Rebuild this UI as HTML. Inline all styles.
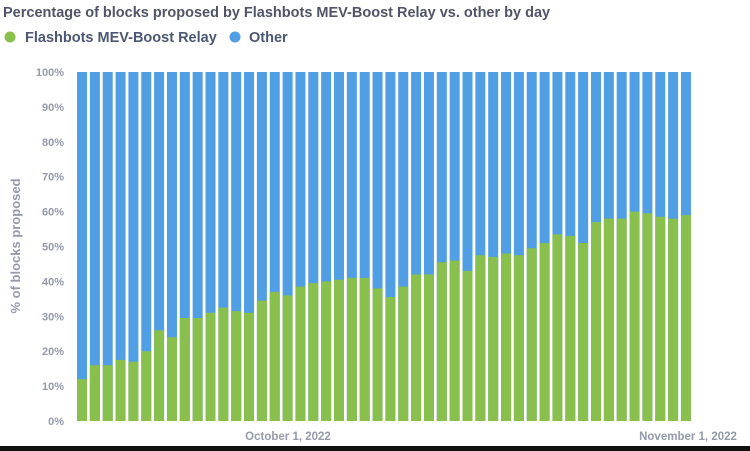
<!DOCTYPE html>
<html><head><meta charset="utf-8"><style>
html,body{margin:0;padding:0;background:#fff;width:750px;height:451px;overflow:hidden;font-family:"Liberation Sans",sans-serif}
</style></head><body>
<svg width="750" height="451" xmlns="http://www.w3.org/2000/svg" style="display:block">
<rect x="0" y="0" width="750" height="451" fill="#fff"/>
<text x="3" y="17" font-size="14.5" font-weight="bold" fill="#4f5566">Percentage of blocks proposed by Flashbots MEV-Boost Relay vs. other by day</text>
<circle cx="10" cy="37" r="5.5" fill="#88bf4d"/>
<text x="25" y="42" font-size="14.5" font-weight="bold" fill="#4c5773">Flashbots MEV-Boost Relay</text>
<circle cx="235" cy="37" r="5.5" fill="#509ee3"/>
<text x="249" y="42" font-size="14.5" font-weight="bold" fill="#4c5773">Other</text>
<text transform="translate(20,246) rotate(-90)" text-anchor="middle" font-size="13" font-weight="bold" fill="#949aab">% of blocks proposed</text>
<g font-size="11" font-weight="bold" fill="#949aab" text-anchor="end">
<text x="64" y="425">0%</text><text x="64" y="390.1">10%</text><text x="64" y="355.2">20%</text><text x="64" y="320.3">30%</text><text x="64" y="285.4">40%</text><text x="64" y="250.5">50%</text><text x="64" y="215.6">60%</text><text x="64" y="180.7">70%</text><text x="64" y="145.8">80%</text><text x="64" y="110.9">90%</text><text x="64" y="76">100%</text>
</g>
<g fill="#509ee3">
<rect x="77" y="72" width="10" height="349"/><rect x="89.85" y="72" width="10" height="349"/><rect x="102.7" y="72" width="10" height="349"/><rect x="115.55" y="72" width="10" height="349"/><rect x="128.4" y="72" width="10" height="349"/><rect x="141.25" y="72" width="10" height="349"/><rect x="154.1" y="72" width="10" height="349"/><rect x="166.95" y="72" width="10" height="349"/><rect x="179.8" y="72" width="10" height="349"/><rect x="192.65" y="72" width="10" height="349"/><rect x="205.5" y="72" width="10" height="349"/><rect x="218.35" y="72" width="10" height="349"/><rect x="231.2" y="72" width="10" height="349"/><rect x="244.05" y="72" width="10" height="349"/><rect x="256.9" y="72" width="10" height="349"/><rect x="269.75" y="72" width="10" height="349"/><rect x="282.6" y="72" width="10" height="349"/><rect x="295.45" y="72" width="10" height="349"/><rect x="308.3" y="72" width="10" height="349"/><rect x="321.15" y="72" width="10" height="349"/><rect x="334" y="72" width="10" height="349"/><rect x="346.85" y="72" width="10" height="349"/><rect x="359.7" y="72" width="10" height="349"/><rect x="372.55" y="72" width="10" height="349"/><rect x="385.4" y="72" width="10" height="349"/><rect x="398.25" y="72" width="10" height="349"/><rect x="411.1" y="72" width="10" height="349"/><rect x="423.95" y="72" width="10" height="349"/><rect x="436.8" y="72" width="10" height="349"/><rect x="449.65" y="72" width="10" height="349"/><rect x="462.5" y="72" width="10" height="349"/><rect x="475.35" y="72" width="10" height="349"/><rect x="488.2" y="72" width="10" height="349"/><rect x="501.05" y="72" width="10" height="349"/><rect x="513.9" y="72" width="10" height="349"/><rect x="526.75" y="72" width="10" height="349"/><rect x="539.6" y="72" width="10" height="349"/><rect x="552.45" y="72" width="10" height="349"/><rect x="565.3" y="72" width="10" height="349"/><rect x="578.15" y="72" width="10" height="349"/><rect x="591" y="72" width="10" height="349"/><rect x="603.85" y="72" width="10" height="349"/><rect x="616.7" y="72" width="10" height="349"/><rect x="629.55" y="72" width="10" height="349"/><rect x="642.4" y="72" width="10" height="349"/><rect x="655.25" y="72" width="10" height="349"/><rect x="668.1" y="72" width="10" height="349"/><rect x="680.95" y="72" width="10" height="349"/>
</g>
<g fill="#88bf4d">
<rect x="77" y="379.1" width="10" height="41.9"/><rect x="89.85" y="365.2" width="10" height="55.8"/><rect x="102.7" y="365.2" width="10" height="55.8"/><rect x="115.55" y="359.9" width="10" height="61.1"/><rect x="128.4" y="361.7" width="10" height="59.3"/><rect x="141.25" y="351.2" width="10" height="69.8"/><rect x="154.1" y="330.3" width="10" height="90.7"/><rect x="166.95" y="337.2" width="10" height="83.8"/><rect x="179.8" y="318" width="10" height="103"/><rect x="192.65" y="318" width="10" height="103"/><rect x="205.5" y="312.8" width="10" height="108.2"/><rect x="218.35" y="307.6" width="10" height="113.4"/><rect x="231.2" y="311.1" width="10" height="109.9"/><rect x="244.05" y="312.8" width="10" height="108.2"/><rect x="256.9" y="300.6" width="10" height="120.4"/><rect x="269.75" y="291.9" width="10" height="129.1"/><rect x="282.6" y="295.4" width="10" height="125.6"/><rect x="295.45" y="286.6" width="10" height="134.4"/><rect x="308.3" y="283.1" width="10" height="137.9"/><rect x="321.15" y="281.4" width="10" height="139.6"/><rect x="334" y="279.7" width="10" height="141.3"/><rect x="346.85" y="277.9" width="10" height="143.1"/><rect x="359.7" y="277.9" width="10" height="143.1"/><rect x="372.55" y="288.4" width="10" height="132.6"/><rect x="385.4" y="297.1" width="10" height="123.9"/><rect x="398.25" y="286.6" width="10" height="134.4"/><rect x="411.1" y="274.4" width="10" height="146.6"/><rect x="423.95" y="274.4" width="10" height="146.6"/><rect x="436.8" y="262.2" width="10" height="158.8"/><rect x="449.65" y="260.5" width="10" height="160.5"/><rect x="462.5" y="270.9" width="10" height="150.1"/><rect x="475.35" y="255.2" width="10" height="165.8"/><rect x="488.2" y="257" width="10" height="164"/><rect x="501.05" y="253.5" width="10" height="167.5"/><rect x="513.9" y="255.2" width="10" height="165.8"/><rect x="526.75" y="248.2" width="10" height="172.8"/><rect x="539.6" y="243" width="10" height="178"/><rect x="552.45" y="234.3" width="10" height="186.7"/><rect x="565.3" y="236" width="10" height="185"/><rect x="578.15" y="243" width="10" height="178"/><rect x="591" y="222.1" width="10" height="198.9"/><rect x="603.85" y="218.6" width="10" height="202.4"/><rect x="616.7" y="218.6" width="10" height="202.4"/><rect x="629.55" y="211.6" width="10" height="209.4"/><rect x="642.4" y="213.3" width="10" height="207.7"/><rect x="655.25" y="216.8" width="10" height="204.2"/><rect x="668.1" y="218.6" width="10" height="202.4"/><rect x="680.95" y="215.1" width="10" height="205.9"/>
</g>
<text x="288" y="440" text-anchor="middle" font-size="11.5" font-weight="bold" fill="#949aab">October 1, 2022</text>
<text x="688" y="440" text-anchor="middle" font-size="11.5" font-weight="bold" fill="#949aab">November 1, 2022</text>
<rect x="0" y="446" width="750" height="5" fill="#111"/>
</svg>
</body></html>
